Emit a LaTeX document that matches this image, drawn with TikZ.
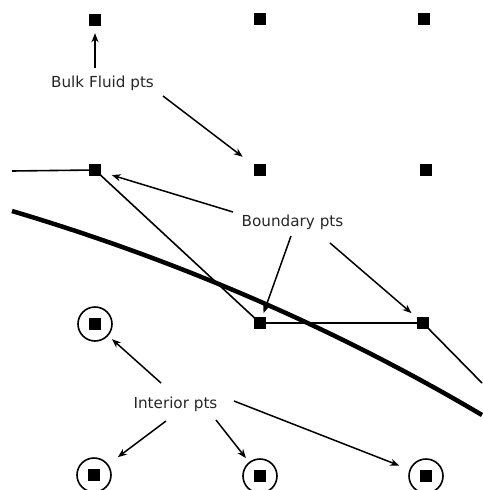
\documentclass[tikz,border=0pt]{standalone}
\usepackage{fontspec}
\setmainfont{DejaVu Sans}
\usetikzlibrary{arrows.meta}
\begin{document}
\begin{tikzpicture}[x=1pt,y=-1pt,
  pt/.style={fill=black,inner sep=0pt,minimum size=12pt,draw=none},
  ring/.style={circle,draw=black,line width=1.6pt,inner sep=0pt,minimum size=34pt},
  lbl/.style={font=\fontsize{15.2}{18}\selectfont,text=black!85,anchor=base,inner sep=0pt},
  arr/.style={line width=1.5pt,-{Stealth[length=9pt,width=7pt]}},
  poly/.style={line width=1.6pt},
  wall/.style={line width=4.5pt}]
\useasboundingbox (0,0) rectangle (482,490);
% grid points
\node[pt] (s11) at (95,20) {};
\node[pt] (s12) at (260,19) {};
\node[pt] (s13) at (424,19) {};
\node[pt] (s21) at (95,170) {};
\node[pt] (s22) at (260,170) {};
\node[pt] (s23) at (426,170) {};
\node[ring] (c31) at (95,324) {};
\node[pt] (s31) at (c31) {};
\node[pt] (s32) at (260,323) {};
\node[pt] (s33) at (423,323) {};
\node[ring] (c41) at (94,475) {};
\node[pt] (s41) at (c41) {};
\node[ring] (c42) at (260,476) {};
\node[pt] (s42) at (c42) {};
\node[ring] (c43) at (426,476) {};
\node[pt] (s43) at (c43) {};
% boundary polyline
\coordinate (pa) at (12,171);
\coordinate (pb) at (482,383);
\draw[poly] (pa) -- (s21.center) -- (s32.center) -- (s33.center) -- (pb);
% wall curve
\coordinate (wa) at (12,211);
\coordinate (wb) at (482,415);
\draw[wall] (wa) .. controls (170,258) and (330,325) .. (wb);
% labels
\node[lbl] (bulk) at (102.5,87.7) {Bulk Fluid pts};
\node[lbl] (bound) at (292.5,226) {Boundary pts};
\node[lbl] (inter) at (175.5,408) {Interior pts};
% arrow starts
\coordinate (b1) at (95,68);
\coordinate (b2) at (163,96);
\coordinate (d1) at (233,212);
\coordinate (d2) at (291,236);
\coordinate (d3) at (330,243);
\coordinate (i1) at (161,383);
\coordinate (i2) at (166,421);
\coordinate (i3) at (216,420);
\coordinate (i4) at (234,401);
% arrows
\draw[arr,shorten >=7pt] (b1) -- (s11);
\draw[arr,shorten >=14pt] (b2) -- (s22);
\draw[arr,shorten >=11pt] (d1) -- (s21);
\draw[arr,shorten >=4pt] (d2) -- (s32);
\draw[arr,shorten >=7pt] (d3) -- (s33);
\draw[arr,shorten >=5pt] (i1) -- (c31);
\draw[arr,shorten >=12pt] (i2) -- (c41);
\draw[arr,shorten >=5pt] (i3) -- (c42);
\draw[arr,shorten >=11pt] (i4) -- (c43);
\end{tikzpicture}
\end{document}
